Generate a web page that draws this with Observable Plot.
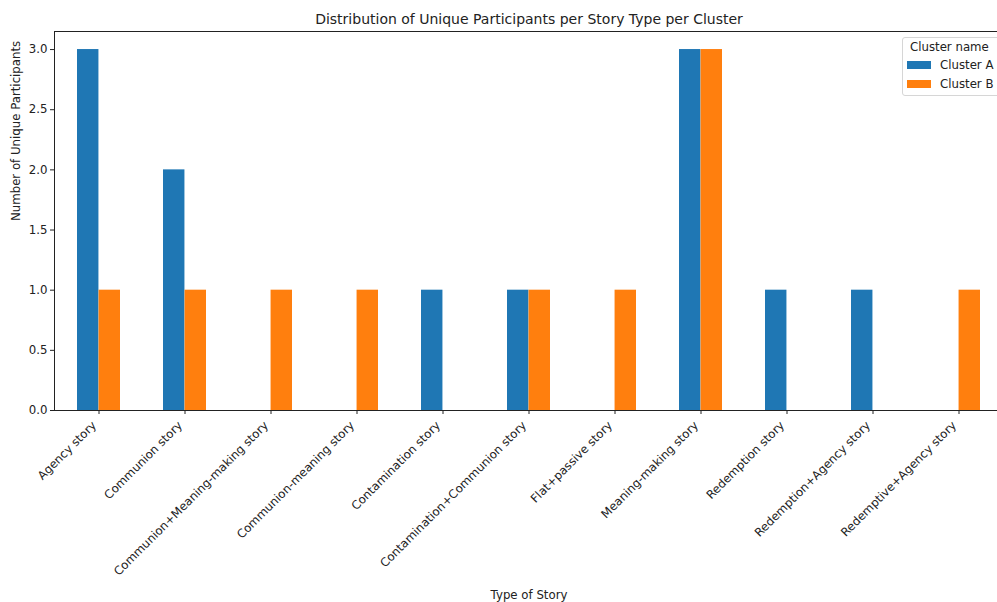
<!DOCTYPE html>
<html>
<head>
<meta charset="utf-8">
<script src="https://cdn.jsdelivr.net/npm/d3@7"></script>
<script src="https://cdn.jsdelivr.net/npm/@observablehq/plot@0.6"></script>
<style>
  html, body { margin: 0; padding: 0; background: #fff; }
  #wrap { position: relative; width: 997px; height: 602px; overflow: hidden; font-family: "DejaVu Sans", sans-serif; }
  #legend { position: absolute; left: 902px; top: 37px; width: 110px; height: 59px; border: 1px solid #d6d6d6; border-radius: 3px; background: rgba(255,255,255,0.8); font-size: 11.75px; color: #222; box-sizing: border-box; }
  #legend .t { position: absolute; left: 7px; top: 2px; white-space: nowrap; }
  #legend .row { position: absolute; left: 4px; display: flex; align-items: center; white-space: nowrap; }
  #legend .sw { width: 24px; height: 8px; margin-right: 9px; }
</style>
</head>
<body>
<div id="wrap"></div>
<script>
const categories = [
  "Agency story",
  "Communion story",
  "Communion+Meaning-making story",
  "Communion-meaning story",
  "Contamination story",
  "Contamination+Communion story",
  "Flat+passive story",
  "Meaning-making story",
  "Redemption story",
  "Redemption+Agency story",
  "Redemptive+Agency story"
];
const clusters = ["Cluster A", "Cluster B"];
const clusterA = [3, 2, 0, 0, 1, 1, 0, 3, 1, 1, 0];
const clusterB = [1, 1, 1, 1, 0, 1, 1, 3, 0, 0, 1];
const colors = ["#1f77b4", "#ff7f0e"];
const yTicks = [0, 0.5, 1, 1.5, 2, 2.5, 3];

const rows = [];
categories.forEach((c, i) => {
  rows.push({story: c, cluster: clusters[0], value: clusterA[i]});
  rows.push({story: c, cluster: clusters[1], value: clusterB[i]});
});

const W = 997, H = 602;
const mL = 54, mR = -6, mT = 31, mB = 192;
const step = (W - mR - mL) / categories.length;
const half = step * 0.25; // each cluster bar is half of the 0.5-wide group

const chart = Plot.plot({
  width: W,
  height: H,
  marginLeft: mL,
  marginRight: mR,
  marginTop: mT,
  marginBottom: mB,
  style: {fontFamily: "DejaVu Sans, sans-serif", fontSize: "11.75px", color: "#222", background: "white"},
  x: {type: "band", domain: categories, paddingInner: 0.5, paddingOuter: 0.25, label: null},
  y: {domain: [0, 3.15], label: null},
  color: {domain: clusters, range: colors},
  marks: [
    Plot.barY(rows.filter(d => d.cluster === clusters[0]), {x: "story", y: "value", fill: "cluster", insetRight: half, insetLeft: 0}),
    Plot.barY(rows.filter(d => d.cluster === clusters[1]), {x: "story", y: "value", fill: "cluster", insetLeft: half, insetRight: 0}),
    Plot.frame({stroke: "#222", strokeWidth: 1}),
    Plot.axisY({ticks: yTicks, tickFormat: d3.format(".1f"), tickSize: 4, tickPadding: 3, label: null, fontSize: 11.75}),
    Plot.axisX({tickSize: 4, tickFormat: () => "", label: null}),
    Plot.text(categories, {x: d => d, frameAnchor: "bottom", rotate: -45, textAnchor: "end", lineAnchor: "bottom", dx: -2, dy: 15.5, fontSize: 11.75, fill: "#222"}),
    Plot.text(["Distribution of Unique Participants per Story Type per Cluster"], {frameAnchor: "top", dy: -17, fontSize: 14, fill: "#222"}),
    Plot.text(["Type of Story"], {frameAnchor: "bottom", dy: 188, fontSize: 11.75, fill: "#222"}),
    Plot.text(["Number of Unique Participants"], {frameAnchor: "left", dx: -38, rotate: -90, fontSize: 11.75, fill: "#222"})
  ]
});

const wrap = document.getElementById("wrap");
wrap.appendChild(chart);

const legend = document.createElement("div");
legend.id = "legend";
legend.innerHTML = `<div class="t">Cluster name</div>` +
  clusters.map((c, i) => `<div class="row" style="top:${20 + i * 19}px"><div class="sw" style="background:${colors[i]}"></div><span>${c}</span></div>`).join("");
wrap.appendChild(legend);
</script>
</body>
</html>
